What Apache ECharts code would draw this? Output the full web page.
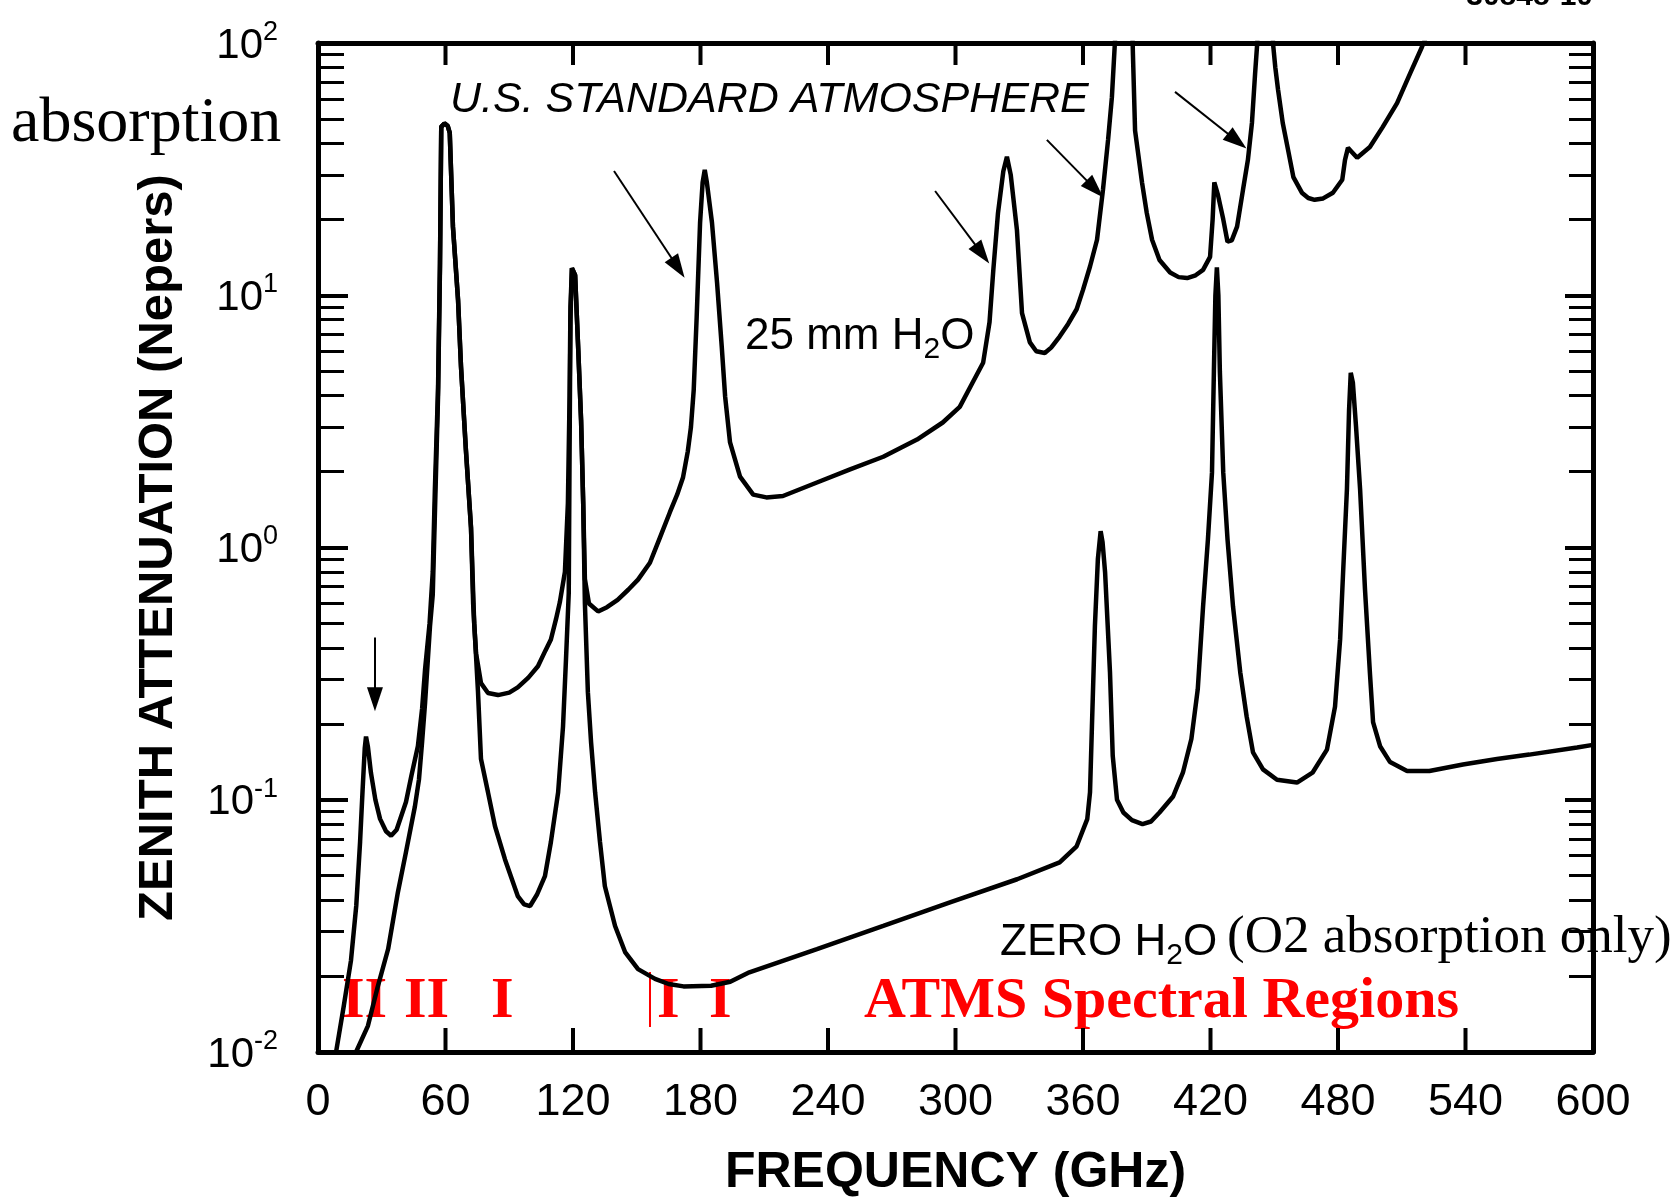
<!DOCTYPE html>
<html>
<head>
<meta charset="utf-8">
<title>Zenith attenuation</title>
<script src="https://cdn.jsdelivr.net/npm/echarts@6/dist/echarts.min.js"></script>
<style>
html, body { margin: 0; padding: 0; background: #fff; }
#chart { width: 1680px; height: 1203px; }
</style>
</head>
<body>
<div id="chart"></div>
<script>
// [frequency GHz, zenith attenuation Nepers]
var h2o25mm = [
	[4, 0.005], [8.5, 0.01], [12, 0.015], [15.5, 0.023], [18, 0.038], [19.8, 0.068], [21, 0.11], [22, 0.16],
	[22.6, 0.178], [23.5, 0.162], [24.9, 0.128], [27, 0.1], [29.2, 0.084], [32, 0.075], [34.4, 0.072], [37, 0.076],
	[41.4, 0.098], [44, 0.125], [47, 0.163], [49, 0.23], [50.4, 0.33], [52.5, 0.5], [54, 0.8], [55, 1.7],
	[56.5, 4.3], [57.4, 13.4], [58, 46.5], [59.5, 48], [61, 47], [62, 44], [63.5, 18.7], [65.9, 9.6],
	[67.3, 5.2], [69.6, 2.44], [72, 1.2], [73.5, 0.5], [74.4, 0.38], [76.7, 0.29], [80, 0.265], [84.7, 0.26],
	[90, 0.266], [94, 0.279], [99, 0.305], [103.5, 0.338], [107, 0.39], [109.6, 0.432], [112, 0.52], [113.8, 0.606],
	[116.2, 0.8], [117.6, 1.5], [118.4, 4], [118.8, 9], [119.5, 12.8], [121, 12], [122.5, 6], [123.8, 3.2],
	[124.8, 1.5], [125.6, 0.75], [127.5, 0.6], [131.8, 0.558], [136, 0.58], [141, 0.62], [146, 0.68], [150.6, 0.746],
	[156.2, 0.87], [161, 1.1], [165.6, 1.38], [169, 1.62], [171.8, 1.9], [174, 2.4], [175.5, 3.0], [176.8, 4.2],
	[178.2, 8.2], [179.8, 19.4], [181, 28], [182, 31.4], [183, 28], [185.4, 19.4], [187.8, 11.2], [190, 6.25],
	[191.6, 3.96], [193.9, 2.61], [198.6, 1.91], [204.8, 1.62], [211, 1.58], [218.8, 1.6], [234.8, 1.81], [250.4, 2.04],
	[266, 2.29], [281.9, 2.68], [294, 3.13], [302, 3.61], [308, 4.5], [313, 5.4], [316, 7.8], [317.8, 12.6],
	[320, 21.2], [322.5, 31], [324.2, 35.4], [326, 30], [328.9, 18.2], [331.3, 8.5], [335, 6.5], [338, 6.0],
	[342, 5.9], [345, 6.2], [349, 6.86], [353, 7.7], [357, 8.8], [360, 10.5], [363.3, 13], [366.6, 16.6],
	[369.4, 26.2], [371.8, 41.3], [373.6, 61], [375, 100], [378, 300], [380.2, 500], [382, 300], [383.5, 90],
	[384.5, 45], [387.8, 27.9], [390, 21.2], [392.5, 16.6], [396, 13.8], [401, 12.3], [405, 11.8], [409, 11.7],
	[413, 12], [416.5, 12.6], [419.8, 14.2], [421, 20], [421.8, 28], [423.5, 25], [426, 20], [428, 16.3],
	[430, 16.5], [432.5, 18.7], [435.3, 26.2], [437.6, 34.4], [439.5, 48.2], [441, 76], [442, 100], [445, 300],
	[446.5, 500], [448, 300], [449.4, 100], [450.5, 80], [451.8, 65.2], [454, 48.2], [456.5, 37.7], [459, 29.4],
	[463, 25.5], [466, 24.3], [469, 23.9], [473, 24.2], [477.6, 25.5], [482, 28.7], [483.3, 34.4], [484.7, 38.4],
	[486.5, 37], [489, 35.1], [495, 38.7], [501, 46.4], [507.8, 57.8], [514, 76], [519.5, 96.4], [525, 125], [530, 160]
];

var o2Only = [
	[14, 0.0075], [17.9, 0.01], [23.5, 0.0127], [28, 0.018], [33, 0.0256], [37.6, 0.043], [41.4, 0.062], [45.6, 0.094],
	[47.5, 0.12], [49, 0.17], [50.4, 0.243], [52.7, 0.487], [54, 0.65], [55, 1.35], [56.5, 4.0], [57.4, 12.8],
	[58, 46.5], [59.5, 48], [61, 47], [62, 44], [63.5, 18.7], [65.9, 9.6], [67.3, 5.2], [69.6, 2.44],
	[72, 1.2], [73, 0.6], [75.3, 0.267], [76.7, 0.145], [80, 0.107], [83.3, 0.0785], [88, 0.058], [94, 0.0415],
	[97, 0.0385], [99.8, 0.0379], [103, 0.042], [106.8, 0.0498], [109.6, 0.068], [113, 0.107], [115.3, 0.195], [116.7, 0.36],
	[118, 0.66], [118.4, 2.5], [118.8, 8], [119.5, 12.8], [121, 12], [122.5, 6], [123.8, 3.2], [124.8, 1.5],
	[125.6, 0.6], [127, 0.267], [128.5, 0.169], [130.4, 0.107], [132.7, 0.068], [135, 0.0454], [139.8, 0.0316], [144.5, 0.0249],
	[150.6, 0.0213], [158.6, 0.0195], [165, 0.0186], [172, 0.0182], [185, 0.0183], [194, 0.019], [203, 0.0207], [234.8, 0.0256],
	[266, 0.0316], [297.4, 0.0392], [329, 0.0484], [349, 0.0565], [357, 0.0654], [362, 0.0838], [363.3, 0.107], [364.2, 0.195],
	[365.6, 0.487], [367, 0.9], [368.3, 1.16], [369.2, 1.05], [370.4, 0.796], [372.7, 0.32], [374, 0.149], [376, 0.1],
	[379, 0.089], [383, 0.083], [388, 0.08], [392, 0.082], [396, 0.089], [402.4, 0.103], [407, 0.128], [411, 0.174],
	[414, 0.274], [416.5, 0.583], [418.8, 1.08], [420.7, 1.98], [421.6, 5], [422.3, 10], [423, 12.9], [423.7, 10],
	[424.4, 5], [426, 1.98], [428, 1.08], [430.6, 0.583], [434, 0.32], [437, 0.214], [440, 0.154], [444.7, 0.132],
	[451.3, 0.12], [460.7, 0.117], [468, 0.128], [474.8, 0.158], [478.6, 0.234], [481, 0.432], [482.4, 0.796], [484.2, 1.7],
	[485.2, 3.5], [486, 4.93], [487, 4.5], [488.5, 3], [490.4, 1.7], [492.7, 0.683], [495, 0.32], [496.5, 0.203],
	[499.8, 0.163], [504.5, 0.141], [512.5, 0.13], [523, 0.13], [538.8, 0.138], [554.8, 0.145], [570, 0.151], [592.5, 0.161],
	[600, 0.165]
];

// log minor ticks (2..9 of each decade)
var minorTicks = [
	0.02, 0.03, 0.04, 0.05, 0.06, 0.07, 0.08, 0.09,
	0.2, 0.3, 0.4, 0.5, 0.6, 0.7, 0.8, 0.9,
	2, 3, 4, 5, 6, 7, 8, 9,
	20, 30, 40, 50, 60, 70, 80, 90
];

// frequency ticks, 0..600 step 60
var freqTicks = [0, 60, 120, 180, 240, 300, 360, 420, 480, 540, 600];

// arrows pointing at the water vapour lines: [from, to] in [GHz, Nepers]
var arrows = [
	[[26.8, 0.44], [26.8, 0.25]],
	[[139.3, 31.1], [169.4, 12.85]],
	[[290.4, 25.9], [312.5, 14.6]],
	[[343, 41.3], [365.6, 26.4]],
	[[403.3, 64], [432.5, 40.9]]
];

var sans = '"Liberation Sans", Arial, sans-serif';
var serif = '"Liberation Serif", "Times New Roman", serif';
var yMin = 0.01, yMax = 100;

var chart = echarts.init(document.getElementById('chart'));

function ticks(len, width, values) {
	var t = { show: true, inside: true, length: len, lineStyle: { color: '#000', width: width } };
	if (values) t.customValues = values;
	return t;
}

function frame() {
	return { show: true, onZero: false, lineStyle: { color: '#000', width: 5 } };
}

var option = {
	animation: false,
	backgroundColor: '#fff',
	grid: { left: 318, right: 87, top: 43, bottom: 150 },
	xAxis: [
		{
			type: 'value', min: 0, max: 600, position: 'bottom',
			name: 'FREQUENCY (GHz)', nameLocation: 'middle', nameGap: 96,
			nameTextStyle: { fontFamily: sans, fontWeight: 'bold', fontSize: 50, color: '#000' },
			axisLine: frame(),
			axisTick: { show: false },
			axisLabel: { margin: 28, fontFamily: sans, fontSize: 45, color: '#000', customValues: freqTicks },
			splitLine: { show: false }
		},
		{
			type: 'value', min: 0, max: 600, position: 'top',
			axisLine: frame(),
			axisTick: { show: false },
			axisLabel: { show: false },
			splitLine: { show: false }
		}
	],
	yAxis: [
		{
			type: 'log', logBase: 10, min: yMin, max: yMax, position: 'left',
			name: 'ZENITH ATTENUATION (Nepers)', nameLocation: 'middle', nameGap: 135,
			nameTextStyle: { fontFamily: sans, fontWeight: 'bold', fontSize: 49, color: '#000' },
			axisLine: frame(),
			axisTick: ticks(30, 4),
			axisLabel: {
				margin: 40,
				formatter: function (v) {
					var e = Math.round(Math.log10(v));
					return '{b|10}{e|' + e + '}';
				},
				rich: {
					b: { fontFamily: sans, fontSize: 42, lineHeight: 48, verticalAlign: 'bottom', color: '#000' },
					e: { fontFamily: sans, fontSize: 27, lineHeight: 27, verticalAlign: 'top', color: '#000' }
				}
			},
			splitLine: { show: false }
		},
		{
			type: 'log', logBase: 10, min: yMin, max: yMax, position: 'right',
			axisLine: frame(),
			axisTick: ticks(28, 4),
			axisLabel: { show: false },
			splitLine: { show: false }
		},
		{
			// minor ticks, left side (log10 space)
			type: 'value', min: -2, max: 2, position: 'left',
			axisLine: { show: false, onZero: false },
			axisTick: ticks(26, 3, minorTicks.map(Math.log10)),
			axisLabel: { show: false },
			splitLine: { show: false }
		},
		{
			// minor ticks, right side
			type: 'value', min: -2, max: 2, position: 'right',
			axisLine: { show: false, onZero: false },
			axisTick: ticks(24, 3, minorTicks.map(Math.log10)),
			axisLabel: { show: false },
			splitLine: { show: false }
		}
	],
	series: [
		{
			name: '25 mm H2O', type: 'line', data: h2o25mm, symbol: 'none', clip: true,
			lineStyle: { color: '#000', width: 4.5 },
			markLine: {
				silent: true, animation: false,
				symbol: ['none', 'triangle'], symbolSize: [16, 24],
				label: { show: false },
				lineStyle: { color: '#000', width: 2, type: 'solid' },
				data: arrows.map(function (a) {
					return [{ coord: a[0] }, { coord: a[1] }];
				})
			}
		},
		{
			name: 'ZERO H2O', type: 'line', data: o2Only, symbol: 'none', clip: true,
			lineStyle: { color: '#000', width: 4.5 }
		}
	],
	graphic: [
		{ type: 'text', x: 11, y: 124, style: { text: 'absorption', font: '64px ' + serif, fill: '#000', textVerticalAlign: 'middle' } },
		{ type: 'text', x: 450, y: 100, style: { text: 'U.S. STANDARD ATMOSPHERE', font: 'italic 43px ' + sans, fill: '#000', textVerticalAlign: 'middle' } },
		{ type: 'text', x: 745, y: 315, style: {
			text: '{n|25 mm H}{s|2}{n|O}',
			rich: {
				n: { fontFamily: sans, fontSize: 44, lineHeight: 50, verticalAlign: 'top', fill: '#000' },
				s: { fontFamily: sans, fontSize: 30, lineHeight: 30, verticalAlign: 'bottom', fill: '#000' }
			}
		} },
		{ type: 'text', x: 1000, y: 921, style: {
			text: '{n|ZERO H}{s|2}{n|O}',
			rich: {
				n: { fontFamily: sans, fontSize: 44, lineHeight: 50, verticalAlign: 'top', fill: '#000' },
				s: { fontFamily: sans, fontSize: 30, lineHeight: 30, verticalAlign: 'bottom', fill: '#000' }
			}
		} },
		{ type: 'text', x: 1227, y: 938, style: { text: '(O2 absorption only)', font: '53px ' + serif, fill: '#000', textVerticalAlign: 'middle' } },
		{ type: 'text', x: 864, y: 1002, style: { text: 'ATMS Spectral Regions', font: 'bold 58px ' + serif, fill: '#ff0000', textVerticalAlign: 'middle' } },
		{ type: 'text', x: 342, y: 1002, style: { text: 'II', font: 'bold 58px ' + serif, fill: '#ff0000', textVerticalAlign: 'middle' } },
		{ type: 'text', x: 404, y: 1002, style: { text: 'II', font: 'bold 58px ' + serif, fill: '#ff0000', textVerticalAlign: 'middle' } },
		{ type: 'text', x: 491, y: 1002, style: { text: 'I', font: 'bold 58px ' + serif, fill: '#ff0000', textVerticalAlign: 'middle' } },
		{ type: 'text', x: 657, y: 1002, style: { text: 'I', font: 'bold 58px ' + serif, fill: '#ff0000', textVerticalAlign: 'middle' } },
		{ type: 'text', x: 709, y: 1002, style: { text: 'I', font: 'bold 58px ' + serif, fill: '#ff0000', textVerticalAlign: 'middle' } },
		{ type: 'line', shape: { x1: 650, y1: 972, x2: 650, y2: 1027 }, style: { stroke: '#ff0000', lineWidth: 2 } },
		{ type: 'text', x: 1593, y: 12, style: { text: '30848-10', font: 'bold 30px ' + sans, fill: '#000', textAlign: 'right', textVerticalAlign: 'bottom' } }
	]
};

chart.setOption(option);

// frequency ticks on the bottom and top frame, pointing inward,
// placed through the axes' own scale
var tickMarks = [];
freqTicks.slice(1, -1).forEach(function (f) {
	var lo = chart.convertToPixel({ xAxisIndex: 0, yAxisIndex: 0 }, [f, yMin]);
	var hi = chart.convertToPixel({ xAxisIndex: 0, yAxisIndex: 0 }, [f, yMax]);
	if (!lo || !hi) return;
	tickMarks.push({ type: 'line', silent: true, shape: { x1: lo[0], y1: lo[1], x2: lo[0], y2: lo[1] - 24 }, style: { stroke: '#000', lineWidth: 4 } });
	tickMarks.push({ type: 'line', silent: true, shape: { x1: hi[0], y1: hi[1], x2: hi[0], y2: hi[1] + 22 }, style: { stroke: '#000', lineWidth: 4 } });
});
chart.setOption({ graphic: option.graphic.concat(tickMarks) });
</script>
</body>
</html>
